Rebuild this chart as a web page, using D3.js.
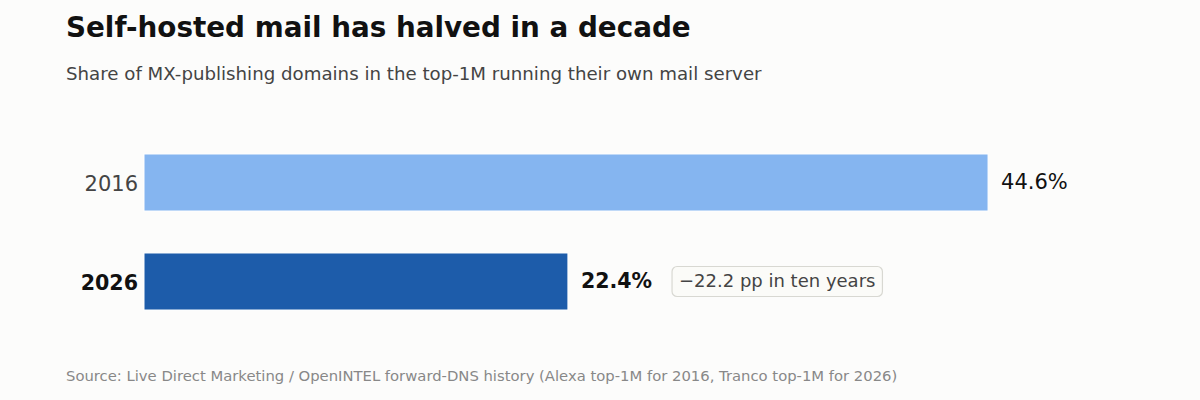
<!DOCTYPE html>
<html>
<head>
<meta charset="utf-8">
<script src="https://cdn.jsdelivr.net/npm/d3@7"></script>
<style>
    body { margin: 0; background: #fcfcfb; }
    svg { display: block; font-family: "DejaVu Sans", sans-serif; }
</style>
</head>
<body>
<div id="chart"></div>
<script>
// values
var years = ["2016", "2026"];
var shares = [44.6, 22.4];
var barColors = ["#85b5f0", "#1d5caa"];
var changeNote = "\u221222.2 pp in ten years";

var width = 1200, height = 400;
var margin = {top: 133, right: 66, bottom: 70, left: 144};

var svg = d3.select("#chart").append("svg")
    .attr("width", width)
    .attr("height", height);

svg.append("rect")
    .attr("width", width)
    .attr("height", height)
    .attr("fill", "#fcfcfb");

svg.append("text")
    .text("Self-hosted mail has halved in a decade")
    .attr("x", 66)
    .attr("y", 37)
    .attr("font-size", 27.8)
    .attr("font-weight", "bold")
    .attr("fill", "#111");

svg.append("text")
    .text("Share of MX-publishing domains in the top-1M running their own mail server")
    .attr("x", 66)
    .attr("y", 80)
    .attr("font-size", 18.2)
    .attr("fill", "#444");

svg.append("text")
    .text("Source: Live Direct Marketing / OpenINTEL forward-DNS history (Alexa top-1M for 2016, Tranco top-1M for 2026)")
    .attr("x", 66)
    .attr("y", 381)
    .attr("font-size", 14.8)
    .attr("fill", "#888");

var x = d3.scaleLinear()
    .domain([0, 52.3])
    .range([margin.left, margin.left + 52.3 * 18.925]);

var y = d3.scaleBand()
    .domain(years)
    .range([margin.top, margin.top + 198])
    .paddingInner(0.424)
    .paddingOuter(0.212);

var rows = years.map(function(d, i) {
    return {year: d, value: shares[i], color: barColors[i], latest: i === years.length - 1};
});

var bars = svg.append("g").attr("id", "bars");

bars.selectAll(".bar")
    .data(rows)
    .enter()
    .append("rect")
    .attr("class", "bar")
    .attr("x", x(0))
    .attr("y", function(d) { return y(d.year); })
    .attr("width", function(d) { return x(d.value) - x(0); })
    .attr("height", y.bandwidth())
    .attr("fill", function(d) { return d.color; })
    .attr("stroke", "#ffffff")
    .attr("stroke-width", 1);

// year labels on the left
var yAxis = svg.append("g")
    .attr("transform", "translate(" + (x(0) - 6) + ",0)")
    .call(d3.axisLeft(y).tickSize(0).tickPadding(0));
yAxis.select(".domain").remove();
yAxis.selectAll("text")
    .attr("font-family", "DejaVu Sans, sans-serif")
    .attr("font-size", function(d) { return d === years[years.length - 1] ? 20.6 : 21; })
    .attr("dy", "0.4em")
    .attr("fill", function(d) { return d === years[years.length - 1] ? "#111" : "#444"; })
    .attr("font-weight", function(d) { return d === years[years.length - 1] ? "bold" : "normal"; });

// value labels
bars.selectAll(".value")
    .data(rows)
    .enter()
    .append("text")
    .attr("class", "value")
    .text(function(d) { return d.value.toFixed(1) + "%"; })
    .attr("x", function(d) { return x(d.value) + 13; })
    .attr("y", function(d) { return y(d.year) + y.bandwidth() / 2; })
    .attr("dy", "0.33em")
    .attr("font-size", function(d) { return d.latest ? 20.5 : 21; })
    .attr("font-weight", function(d) { return d.latest ? "bold" : "normal"; })
    .attr("fill", "#111");

// change note next to the latest bar
var last = rows[rows.length - 1];
var lastLabel = bars.selectAll(".value").filter(function(d) { return d.latest; }).node();
var noteX = x(last.value) + 13 + lastLabel.getBBox().width + 20;
var noteY = y(last.year) + y.bandwidth() / 2;

var note = svg.append("g").attr("id", "note");
var noteText = note.append("text")
    .text(changeNote)
    .attr("x", noteX + 7)
    .attr("y", noteY)
    .attr("dy", "0.33em")
    .attr("font-size", 18)
    .attr("fill", "#444");
var bb = noteText.node().getBBox();
note.insert("rect", "text")
    .attr("x", noteX)
    .attr("y", noteY - 15)
    .attr("width", bb.width + 14)
    .attr("height", 30)
    .attr("rx", 5)
    .attr("fill", "#fbfbf8")
    .attr("stroke", "#d8d8d2")
    .attr("stroke-width", 1.2);
</script>
</body>
</html>
